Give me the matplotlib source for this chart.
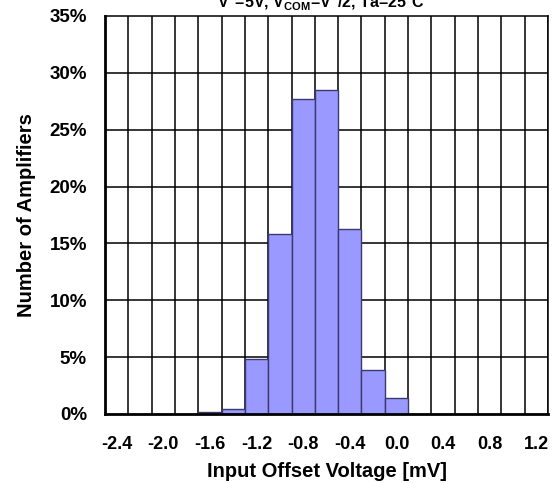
import numpy as np
import matplotlib.pyplot as plt

plt.rcParams['font.family'] = ['Liberation Sans', 'DejaVu Sans']
plt.rcParams['font.weight'] = 'bold'
plt.rcParams['mathtext.fontset'] = 'custom'
plt.rcParams['mathtext.rm'] = 'Liberation Sans:bold'
plt.rcParams['mathtext.it'] = 'Liberation Sans:bold'
plt.rcParams['mathtext.bf'] = 'Liberation Sans:bold'

# bins of input offset voltage (mV), share of amplifiers (%)
bins = [-2.4, -2.2, -2.0, -1.8, -1.6, -1.4, -1.2, -1.0, -0.8, -0.6,
        -0.4, -0.2, 0.0, 0.2, 0.4, 0.6, 0.8, 1.0, 1.2]
share = [0, 0, 0, 0, 0.15, 0.45, 4.8, 15.8, 27.7, 28.5,
         16.3, 3.9, 1.4, 0, 0, 0, 0, 0, 0]
tick_labels = ['-2.4', '-2.0', '-1.6', '-1.2', '-0.8', '-0.4', '0.0', '0.4', '0.8', '1.2']

fig = plt.figure(figsize=(5.53, 4.83), dpi=100)
ax = fig.add_axes([0.1899, 0.1429, 0.991 - 0.1899, 0.967 - 0.1429])

pos = np.arange(len(bins))
ax.bar(pos, share, width=1.0, color='#9999FF', edgecolor='#3a3a70', linewidth=1.0, zorder=3)

ax.set_xlim(-0.5, len(bins) - 0.5)
ax.set_ylim(0, 35)

# grid lines at bin edges and every 5%
for e in np.arange(-0.5, len(bins) - 0.4, 1.0):
    ax.axvline(e, color='black', linewidth=1.1, zorder=1)
for y in range(5, 35, 5):
    ax.axhline(y, color='black', linewidth=1.1, zorder=1)

ax.set_xticks(pos[::2])
ax.set_xticklabels(tick_labels)
ax.set_yticks(range(0, 40, 5))
ax.set_yticklabels([f'{v}%' for v in range(0, 40, 5)])
ax.tick_params(length=0, labelsize=13)
ax.tick_params(axis='y', labelsize=13.5, pad=13)
ax.tick_params(axis='x', pad=16)
for s in ax.spines.values():
    s.set_linewidth(1.1)
    s.set_zorder(4)
ax.spines['bottom'].set_linewidth(2.0)
ax.spines['left'].set_linewidth(2.0)

ax.set_xlabel('Input Offset Voltage [mV]', fontsize=14.5, fontweight='bold', labelpad=6)
ax.set_ylabel('Number of Amplifiers', fontsize=14.5, fontweight='bold', labelpad=10)

fig.text(0.58, 0.985, r'V$^{+}$=5V, V$_{\mathrm{COM}}$=V$^{+}$/2, Ta=25°C',
         ha='center', va='baseline', fontsize=11.5, fontweight='bold')

fig.savefig('out.png', dpi=100)
